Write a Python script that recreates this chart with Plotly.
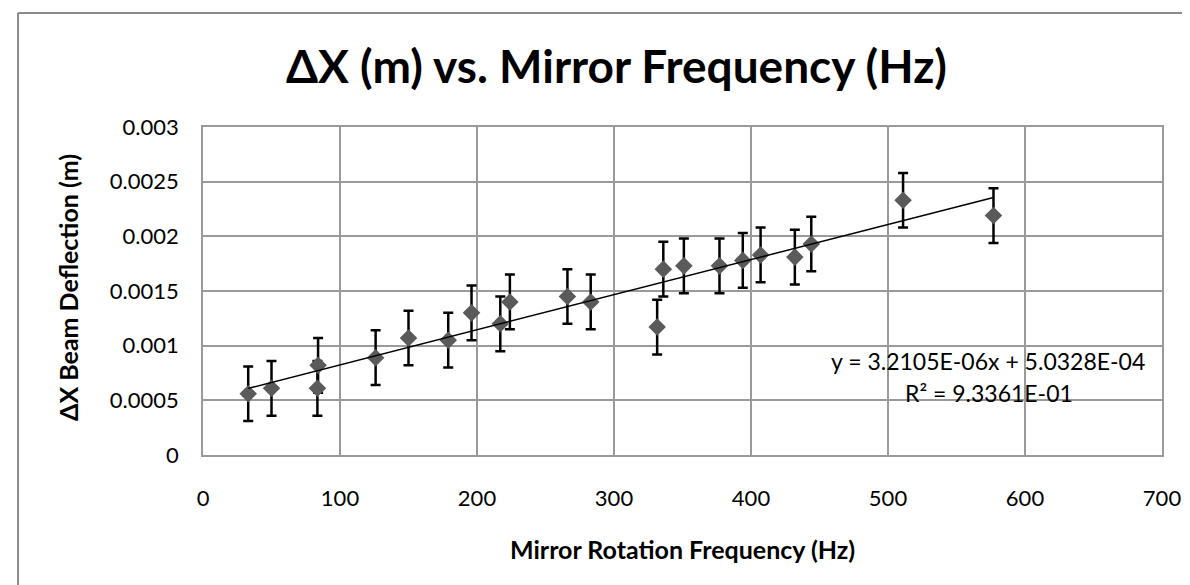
import plotly.graph_objects as go

# ---- data ----
freq_hz = [33, 50, 83.5, 84, 126, 150, 179, 196, 217, 224, 266, 283,
           331.5, 336, 351, 377, 394, 407, 432, 444, 511, 577]
delta_x_m = [0.00056, 0.00061, 0.00061, 0.00082, 0.00089, 0.00107, 0.00105,
             0.00130, 0.00120, 0.00140, 0.00145, 0.00140, 0.00117, 0.00170,
             0.00173, 0.00173, 0.00178, 0.00183, 0.00181, 0.00193, 0.00233,
             0.00219]
err_m = [0.00025] * len(freq_hz)

slope = 3.2105e-06
intercept = 5.0328e-04
r_squared_text = "9.3361E-01"

x_ticks = [0, 100, 200, 300, 400, 500, 600, 700]
y_ticks = [0, 0.0005, 0.001, 0.0015, 0.002, 0.0025, 0.003]
y_tick_labels = ["0", "0.0005", "0.001", "0.0015", "0.002", "0.0025", "0.003"]

title_text = "ΔX (m) vs. Mirror Frequency (Hz)"
x_title = "Mirror Rotation Frequency (Hz)"
y_title = "ΔX Beam Deflection (m)"

# ---- layout geometry ----
W, H = 1190, 585
L, R, T, B = 195, 36, 119, 138
PW, PH = W - L - R, H - T - B


def px(xp):
    return (xp - L) / PW


def py(yp):
    return (H - B - yp) / PH


FONT = "Lato"
GRID = "#9a9a9a"

fig = go.Figure()

fig.add_trace(go.Scatter(
    x=freq_hz, y=delta_x_m, mode="markers",
    marker=dict(symbol="diamond", size=13.5, color="#5a5a5a"),
    error_y=dict(type="data", array=err_m, visible=True,
                 color="black", thickness=2.5, width=5),
    showlegend=False, hoverinfo="x+y",
))

tx = [min(freq_hz), max(freq_hz)]
fig.add_trace(go.Scatter(
    x=tx, y=[slope * v + intercept for v in tx], mode="lines",
    line=dict(color="black", width=1.5), showlegend=False, hoverinfo="skip",
))

fig.update_layout(
    width=W, height=H,
    margin=dict(l=L, r=R, t=T, b=B, pad=0),
    paper_bgcolor="white", plot_bgcolor="white",
    font=dict(family=FONT, color="black"),
    showlegend=False,
)

fig.update_xaxes(
    range=[0, 700], tickvals=x_ticks, ticks="",
    showgrid=True, gridcolor=GRID, gridwidth=1.5,
    showline=True, linecolor=GRID, linewidth=1.5, mirror=True,
    zeroline=False, tickfont=dict(family=FONT, size=22, color="black"),
    ticklabelstandoff=23,
)
fig.update_yaxes(
    range=[0, 0.003], tickvals=y_ticks, ticktext=y_tick_labels, ticks="",
    showgrid=True, gridcolor=GRID, gridwidth=1.5,
    showline=True, linecolor=GRID, linewidth=1.5, mirror=True,
    zeroline=False, tickfont=dict(family=FONT, size=22, color="black"),
    ticklabelstandoff=18,
)

ann = [
    dict(text="<b>" + title_text + "</b>", x=px(608), y=py(57),
         font=dict(family=FONT, size=46, color="black")),
    dict(text="<b>" + x_title + "</b>", x=0.5, y=py(541),
         font=dict(family=FONT, size=25, color="black")),
    dict(text="<b>" + y_title + "</b>", x=px(60), y=py(280), textangle=-90,
         font=dict(family=FONT, size=25, color="black")),
    dict(text=f"y = {slope:.4E}x + {intercept:.4E}",
         x=px(980), y=py(353), font=dict(family=FONT, size=23, color="black")),
    dict(text="R² = " + r_squared_text, x=px(981), y=py(385),
         font=dict(family=FONT, size=23, color="black")),
]
for a in ann:
    a.update(xref="paper", yref="paper", showarrow=False,
             xanchor="center", yanchor="middle")
fig.update_layout(annotations=ann)

# chart-area frame (left and top edges visible in the reference)
fig.add_shape(type="line", xref="paper", yref="paper",
              x0=px(10), x1=px(10), y0=py(5), y1=py(600),
              line=dict(color="#8c8c8c", width=2))
fig.add_shape(type="line", xref="paper", yref="paper",
              x0=px(10), x1=px(1200), y0=py(5), y1=py(5),
              line=dict(color="#8c8c8c", width=2))

fig.write_html("out.html")
